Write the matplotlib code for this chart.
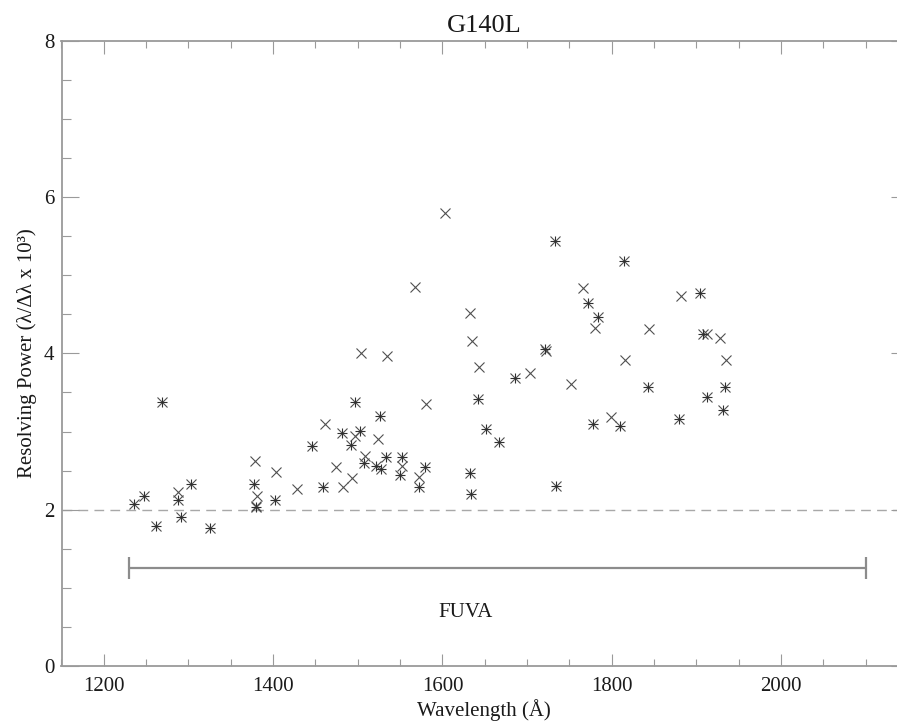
import matplotlib
matplotlib.use("Agg")
import matplotlib.pyplot as plt
from matplotlib.ticker import MultipleLocator

plt.rcParams['font.family'] = ['Liberation Serif', 'DejaVu Serif']

# ---- data ----
star_wave = [1236, 1247, 1262, 1269, 1288, 1291, 1303, 1326, 1377, 1380, 1402,
             1446, 1459, 1481, 1492, 1497, 1503, 1507, 1522, 1526, 1528, 1533,
             1550, 1552, 1572, 1580, 1633, 1634, 1642, 1651, 1667, 1686, 1721,
             1733, 1734, 1772, 1778, 1784, 1810, 1815, 1843, 1880, 1904, 1908,
             1912, 1931, 1934]
star_rp = [2.07, 2.17, 1.79, 3.38, 2.13, 1.91, 2.33, 1.76, 2.33, 2.03, 2.12,
           2.81, 2.29, 2.98, 2.83, 3.38, 3.01, 2.60, 2.56, 3.20, 2.52, 2.68,
           2.44, 2.68, 2.29, 2.55, 2.47, 2.20, 3.42, 3.03, 2.87, 3.69, 4.06,
           5.44, 2.30, 4.64, 3.10, 4.46, 3.07, 5.18, 3.57, 3.16, 4.77, 4.25,
           3.44, 3.27, 3.57]

x_wave = [1288, 1378, 1381, 1380, 1403, 1428, 1461, 1474, 1482, 1493, 1497,
          1504, 1508, 1524, 1535, 1552, 1568, 1572, 1581, 1603, 1633, 1635,
          1643, 1703, 1722, 1752, 1766, 1780, 1799, 1816, 1844, 1882, 1913,
          1928, 1935]
x_rp = [2.22, 2.62, 2.17, 2.05, 2.48, 2.26, 3.09, 2.54, 2.29, 2.41, 2.94,
        4.01, 2.69, 2.91, 3.97, 2.56, 4.85, 2.42, 3.35, 5.80, 4.51, 4.16,
        3.82, 3.75, 4.03, 3.61, 4.84, 4.32, 3.18, 3.92, 4.31, 4.74, 4.25,
        4.19, 3.92]

min_rp = 2.0
fuva_range = [1230, 2100]
fuva_level = 1.25
fuva_label = "FUVA"

x_major = [1200, 1400, 1600, 1800, 2000]
y_major = [0, 2, 4, 6, 8]

# ---- figure ----
W, H = 897, 721
fig = plt.figure(figsize=(W / 100, H / 100), dpi=100)
left_px, right_px, top_px, bot_px = 61.5, 908.0, 40.7, 666.0
ax = fig.add_axes([left_px / W, 1 - bot_px / H,
                   (right_px - left_px) / W, (bot_px - top_px) / H])
ax.set_xlim(1150, 2150)
ax.set_ylim(0, 8)

axcol = '#9a9a9a'
mcol = '#505050'

# dashed minimum line
ax.axhline(min_rp, color='#a8a8a8', lw=1.0, dashes=(7, 4.5), zorder=1)

# FUVA range bar
ax.plot(fuva_range, [fuva_level, fuva_level], color='#8c8c8c', lw=1.6,
        solid_capstyle='butt', zorder=2)
ax.plot(fuva_range, [fuva_level, fuva_level], ls='none', marker='|',
        ms=16, mew=1.6, color='#8c8c8c', zorder=2)
ax.text(1627, 0.627, fuva_label, ha='center', va='baseline', fontsize=15,
        color='#1a1a1a')

# points
ax.plot(x_wave, x_rp, ls='none', marker='x', ms=7.5, mew=0.8, color=mcol,
        zorder=3)
ax.plot(star_wave, star_rp, ls='none', marker='x', ms=7.5, mew=0.8,
        color=mcol, zorder=3)
ax.plot(star_wave, star_rp, ls='none', marker='+', ms=6.5, mew=0.8,
        color='#303030', zorder=3)

# axes styling
for s in ax.spines.values():
    s.set_color(axcol)
    s.set_linewidth(1.3)

ax.set_xticks(x_major)
ax.set_yticks(y_major)
ax.xaxis.set_minor_locator(MultipleLocator(50))
ax.yaxis.set_minor_locator(MultipleLocator(0.5))
ax.tick_params(axis='x', which='major', direction='in', length=9, width=0.8,
               color=axcol, top=True, bottom=True, labelsize=15, pad=8,
               labelcolor='#1a1a1a')
ax.tick_params(axis='x', which='minor', direction='in', length=4.7, width=0.8,
               color=axcol, top=True, bottom=True)
ax.tick_params(axis='y', which='major', direction='in', length=12.2, width=0.8,
               color=axcol, left=True, right=True, labelsize=15, pad=5,
               labelcolor='#1a1a1a')
ax.tick_params(axis='y', which='minor', direction='in', length=6.5, width=0.8,
               color=axcol, left=True, right=True)

# labels
fig.text(484 / W, 1 - 31.7 / H, "G140L", ha='center', va='baseline',
         fontsize=19, color='#1a1a1a')
fig.text(484 / W, 1 - 716 / H, "Wavelength (Å)", ha='center', va='baseline',
         fontsize=15, color='#1a1a1a')
fig.text(27 / W, 1 - 353 / H, "Resolving Power (λ/Δλ x 10³)", ha='center',
         va='center', rotation=90, fontsize=15, color='#1a1a1a')

fig.savefig("out.png", dpi=100)
